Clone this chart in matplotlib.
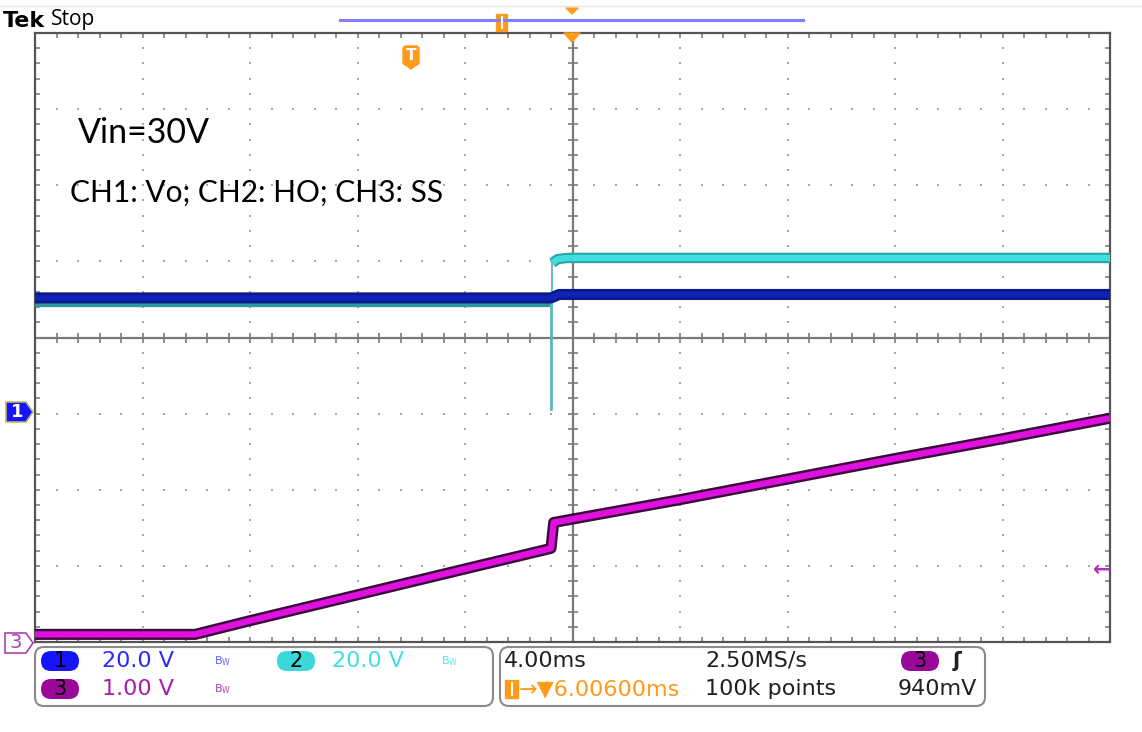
import matplotlib.pyplot as plt
import numpy as np
from matplotlib.patches import FancyBboxPatch, Polygon, Rectangle

# --- scope data (time in ms, 4 ms/div; volts per channel) ---
ch1_t = [0, 19.2, 19.5, 40]
ch1_v = [30.4, 30.4, 31.3, 31.3]          # Vo, 20 V/div

ch2_pre_t = [0, 19.2]
ch2_pre_v = [29.6, 29.6]                  # HO before start, 20 V/div
ch2_spike_t = [19.2, 19.2, 19.25, 19.25]
ch2_spike_v = [29.6, 1.0, 1.0, 39.6]
ch2_post_t = [19.25, 19.45, 19.8, 40]
ch2_post_v = [39.6, 40.6, 40.9, 40.9]

ch3_t = [0, 5.96, 8, 12, 16, 19.2, 19.3, 24, 28, 32, 36, 40]
ch3_v = [0.1, 0.1, 0.28, 0.62, 0.96, 1.23, 1.57, 1.87, 2.14, 2.41, 2.67, 2.94]  # SS, 1 V/div

MS_PER_DIV = 4.0
ch_scale = {1: 20.0, 2: 20.0, 3: 1.0}
ch_ground = {1: -1.0, 2: -1.0, 3: -4.0}   # ground level in divisions


def to_div(t, v, ch):
    return np.array(t) / MS_PER_DIV, np.array(v) / ch_scale[ch] + ch_ground[ch]


W, H = 1142, 732
fig = plt.figure(figsize=(W / 100, H / 100), dpi=100)
fig.patch.set_facecolor('white')

# scope graticule axes in pixel layout
x0, x1, y0, y1 = 35, 1110, 33, 642
ax = fig.add_axes([x0 / W, 1 - y1 / H, (x1 - x0) / W, (y1 - y0) / H])
ax.set_xlim(0, 10)
ax.set_ylim(-4, 4)
ax.set_xticks(np.arange(0, 10.01, 1))
ax.set_yticks(np.arange(-4, 4.01, 1))
ax.set_xticks(np.arange(0, 10.01, 0.2), minor=True)
ax.set_yticks(np.arange(-4, 4.01, 0.2), minor=True)
ax.tick_params(which='both', direction='in', top=True, right=True, labelbottom=False,
               labelleft=False, color='#808080', width=1.2, length=3.5)
for s in ax.spines.values():
    s.set_color('#555555')
    s.set_linewidth(1.6)

# grid dots along major lines
minor_y = np.arange(-4, 4.01, 0.2)
minor_x = np.arange(0, 10.01, 0.2)
for gx in range(1, 10):
    if gx == 5:
        continue
    ax.scatter(np.full(minor_y.size, gx), minor_y, s=3, marker='s', color='#a8a8a8', lw=0, zorder=1)
for gy in range(-3, 4):
    if gy == 0:
        continue
    ax.scatter(minor_x, np.full(minor_x.size, gy), s=3, marker='s', color='#a8a8a8', lw=0, zorder=1)

# center cross
ax.axhline(0, color='#7a7a7a', lw=1.6, zorder=1)
ax.axvline(5, color='#7a7a7a', lw=1.6, zorder=1)
ax.plot(minor_x, np.zeros(minor_x.size), ls='none', marker='|', ms=7, mew=1.2, color='#7a7a7a', zorder=1)
ax.plot(np.full(minor_y.size, 5), minor_y, ls='none', marker='_', ms=7, mew=1.2, color='#7a7a7a', zorder=1)

# CH2 (HO)
xd, yd = to_div(ch2_pre_t, ch2_pre_v, 2)
ax.plot(xd, yd - 0.03, color='#2a9a9a', lw=6, solid_capstyle='butt', zorder=3)
xd, yd = to_div(ch2_spike_t, ch2_spike_v, 2)
ax.plot(xd, yd, color='#5ab8b8', lw=1.3, zorder=3)
xd, yd = to_div(ch2_post_t, ch2_post_v, 2)
ax.plot(xd, yd, color='#2aa5a5', lw=7.5, solid_capstyle='butt', zorder=3)
ax.plot(xd, yd, color='#40dede', lw=4.5, solid_capstyle='butt', zorder=3)

# CH1 (Vo)
xd, yd = to_div(ch1_t, ch1_v, 1)
ax.plot(xd, yd, color='#0a1a8a', lw=8, solid_capstyle='butt', zorder=4)
ax.plot(xd, yd, color='#1022b8', lw=4, solid_capstyle='butt', zorder=4)

# CH3 (SS)
xd, yd = to_div(ch3_t, ch3_v, 3)
ax.plot(xd, yd, color='#3a0a3a', lw=8, solid_capstyle='butt', zorder=5)
ax.plot(xd, yd, color='#e010e0', lw=4.5, solid_capstyle='butt', zorder=5)

# overlay in pixel coordinates
ov = fig.add_axes([0, 0, 1, 1])
ov.set_xlim(0, W)
ov.set_ylim(H, 0)
ov.axis('off')
ov.patch.set_alpha(0)

ov.plot([0, W], [6, 6], color='#e6e6e6', lw=1)
ov.text(3, 21, 'Tek', fontsize=16, fontweight='bold', family='DejaVu Sans', va='center', ha='left')
ov.text(51, 20, 'Stop', fontsize=15, family='Open Sans', va='center', ha='left')

# record bar and trigger markers
ov.plot([340, 803], [20, 20], color='#8080ff', lw=2.2)
ov.add_patch(Rectangle((496, 14), 11, 17, color='#ff9a1a'))
ov.plot([501.5, 501.5], [17, 28], color='white', lw=1.5)
ov.add_patch(Polygon([(566, 8), (578, 8), (572, 14)], color='#ff9a1a'))
ov.add_patch(Polygon([(564, 33), (580, 33), (572, 42)], color='#ff9a1a'))
ov.add_patch(FancyBboxPatch((403, 46), 16, 19, boxstyle='round,pad=0,rounding_size=3', color='#ff9a1a'))
ov.add_patch(Polygon([(403, 63), (419, 63), (411, 69)], color='#ff9a1a'))
ov.text(411, 56, 'T', color='white', fontsize=11, fontweight='bold', ha='center', va='center')

# annotations
ov.text(78, 133, 'Vin=30V', fontsize=24.5, family='Lato', va='center', ha='left')
ov.text(70, 193, 'CH1: Vo; CH2: HO; CH3: SS', fontsize=21.5, family='Lato', va='center', ha='left')

# channel ground markers
ov.add_patch(Polygon([(6, 402), (26, 402), (33, 412), (26, 422), (6, 422)],
                     closed=True, fc='#1414ff', ec='#b8b870', lw=1.2))
ov.text(17, 412, '1', color='white', fontsize=13, fontweight='bold', ha='center', va='center')
ov.add_patch(Polygon([(5, 633), (26, 633), (33, 643), (26, 653), (5, 653)],
                     closed=True, fc='white', ec='#b040b0', lw=1.2))
ov.text(16, 643, '3', color='#b040b0', fontsize=14, ha='center', va='center')
ov.text(1102, 570, '\u2190', color='#b030c0', fontsize=15, fontweight='bold', ha='center', va='center')

# readout boxes
ov.add_patch(FancyBboxPatch((35, 647), 458, 59, boxstyle='round,pad=0,rounding_size=9',
                            fc='white', ec='#8a8a8a', lw=1.5))
ov.add_patch(FancyBboxPatch((500, 647), 485, 59, boxstyle='round,pad=0,rounding_size=9',
                            fc='white', ec='#8a8a8a', lw=1.5))


def pill(cx, cy, label, color):
    ov.add_patch(FancyBboxPatch((cx - 19, cy - 10), 38, 20, boxstyle='round,pad=0,rounding_size=10',
                                fc=color, ec='none'))
    ov.text(cx, cy, label, color='black', fontsize=15, ha='center', va='center')


fs = 16
r1, r2 = 661, 689
pill(60, r1, '1', '#1414ff')
ov.text(102, r1, '20.0 V', color='#2a2aff', fontsize=fs, ha='left', va='center')
ov.text(214, r1, r'$\mathregular{B_W}$', color='#6060ff', fontsize=8, ha='left', va='center')
pill(296, r1, '2', '#3ad8d8')
ov.text(332, r1, '20.0 V', color='#40e0e0', fontsize=fs, ha='left', va='center')
ov.text(441, r1, r'$\mathregular{B_W}$', color='#60e0e0', fontsize=8, ha='left', va='center')
pill(60, r2, '3', '#9a089a')
ov.text(102, r2, '1.00 V', color='#a81ca8', fontsize=fs, ha='left', va='center')
ov.text(214, r2, r'$\mathregular{B_W}$', color='#b040b0', fontsize=8, ha='left', va='center')

ov.text(504, r1, '4.00ms', color='#202020', fontsize=fs, ha='left', va='center')
ov.text(705, r1, '2.50MS/s', color='#202020', fontsize=fs, ha='left', va='center')
pill(920, r1, '3', '#9a089a')
ov.text(957, r1, '\u0283', color='#202020', fontsize=15, fontweight='bold', ha='center', va='center')
ov.add_patch(Rectangle((505, 680), 13, 18, color='#ff9a1a'))
ov.plot([511.5, 511.5], [683, 695], color='white', lw=1.4)
ov.text(519, r2, '\u2192\u25bc6.00600ms', color='#ff9a1a', fontsize=fs, ha='left', va='center')
ov.text(705, r2, '100k points', color='#202020', fontsize=fs, ha='left', va='center')
ov.text(898, r2, '940mV', color='#202020', fontsize=fs, ha='left', va='center')

fig.savefig('out.png', dpi=100, facecolor='white')
